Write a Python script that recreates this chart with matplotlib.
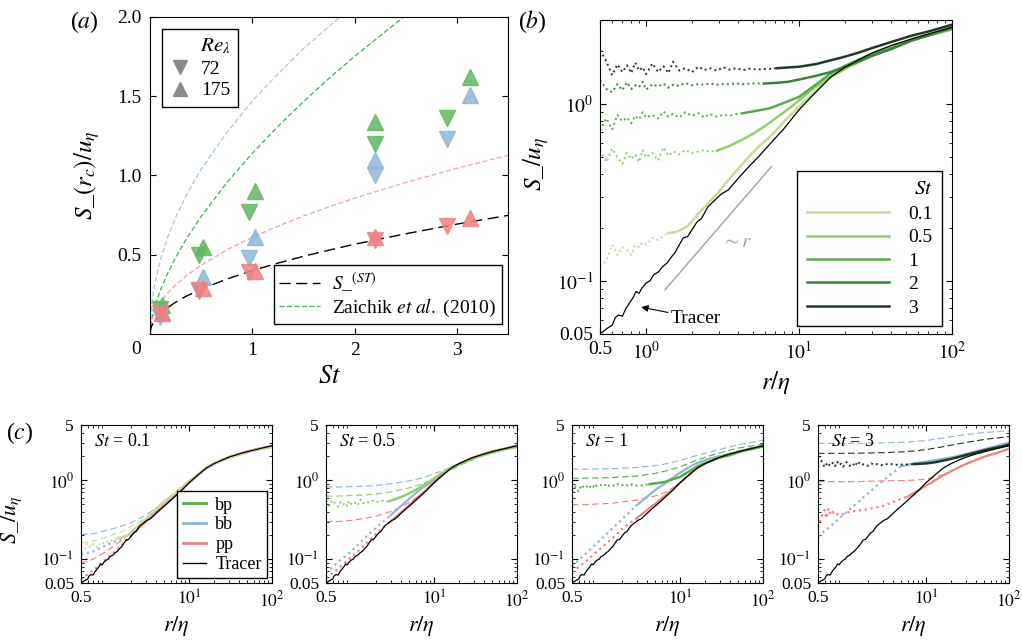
import numpy as np
import matplotlib
matplotlib.use('Agg')
import matplotlib.pyplot as plt
from matplotlib.lines import Line2D
from matplotlib.ticker import NullFormatter, LogLocator

plt.rcParams['font.family'] = 'serif'
plt.rcParams['font.serif'] = ['Liberation Serif', 'DejaVu Serif']
plt.rcParams['mathtext.fontset'] = 'stix'
plt.rcParams['xtick.direction'] = 'in'
plt.rcParams['ytick.direction'] = 'in'
plt.rcParams['xtick.top'] = True
plt.rcParams['ytick.right'] = True
plt.rcParams['xtick.minor.visible'] = False

# ---------------- panel (a) data ----------------
st_72 = [0.10, 0.48, 0.97, 2.2, 2.9]
st_175 = [0.12, 0.52, 1.03, 2.2, 3.13]
bp_72 = [0.16, 0.50, 0.77, 1.20, 1.36]
bp_175 = [0.18, 0.55, 0.90, 1.34, 1.62]
bb_72 = [0.11, 0.27, 0.48, 1.00, 1.23]
bb_175 = [0.14, 0.36, 0.61, 1.10, 1.51]
pp_72 = [0.13, 0.28, 0.39, 0.59, 0.68]
pp_175 = [0.13, 0.29, 0.40, 0.61, 0.73]

z_st = [0, 0.01, 0.025, 0.05, 0.1, 0.175, 0.25, 0.35, 0.5, 0.75, 1.0, 1.25,
        1.5, 1.75, 2.0, 2.5, 3.0, 3.5]
z_bb = [0, 0.147, 0.232, 0.329, 0.465, 0.615, 0.735, 0.87, 1.04, 1.27, 1.47,
        1.64, 1.80, 1.94, 2.08, 2.32, 2.55, 2.75]
z_bp = [0, 0.066, 0.116, 0.178, 0.274, 0.387, 0.482, 0.594, 0.742, 0.954,
        1.14, 1.309, 1.466, 1.613, 1.752, 2.01, 2.25, 2.48]
z_pp = [0, 0.064, 0.10, 0.141, 0.198, 0.26, 0.309, 0.365, 0.434, 0.53, 0.61,
        0.68, 0.744, 0.802, 0.857, 0.956, 1.045, 1.127]
s_st = [0, 0.04, 0.063, 0.089, 0.126, 0.167, 0.20, 0.237, 0.283, 0.346, 0.40,
        0.447, 0.49, 0.529, 0.566, 0.632, 0.693, 0.748]

# ---------------- panel (b) data ----------------
st_list = ['0.1', '0.5', '1', '2', '3']
r_dot = [0.5, 0.55, 0.6, 0.65, 0.7, 0.75, 0.8, 0.85, 0.9, 0.95, 1.0, 1.1, 1.2,
         1.3, 1.4, 1.5, 1.65, 1.8, 2.0, 2.2, 2.4, 2.6, 2.9, 3.2, 3.5, 3.9,
         4.3, 4.8, 5.3, 5.9, 6.5, 7.2]
dot_st01 = [0.12, 0.13, 0.16, 0.14, 0.155, 0.15, 0.14, 0.16, 0.155, 0.165,
            0.16, 0.175, 0.17, 0.18, 0.186]
dot_st05 = [0.55, 0.47, 0.56, 0.50, 0.46, 0.53, 0.49, 0.52, 0.47, 0.55, 0.50,
            0.53, 0.48, 0.57, 0.51, 0.54, 0.52, 0.55, 0.53, 0.54, 0.55, 0.54,
            0.545]
dot_st1 = [0.71, 0.83, 0.72, 0.87, 0.80, 0.84, 0.78, 0.86, 0.82, 0.90, 0.84,
           0.87, 0.83, 0.91, 0.85, 0.88, 0.84, 0.90, 0.86, 0.89, 0.84, 0.88,
           0.85, 0.87, 0.86, 0.88, 0.89]
dot_st2 = [1.37, 1.22, 1.17, 1.30, 1.20, 1.33, 1.22, 1.28, 1.25, 1.34, 1.21,
           1.30, 1.26, 1.31, 1.24, 1.29, 1.27, 1.32, 1.28, 1.30, 1.29, 1.31,
           1.29, 1.30, 1.30, 1.31, 1.30, 1.31, 1.31, 1.31]
dot_st3 = [2.02, 1.75, 1.46, 1.68, 1.52, 1.66, 1.50, 1.72, 1.55, 1.62, 1.48,
           1.70, 1.52, 1.64, 1.50, 1.74, 1.55, 1.60, 1.52, 1.63, 1.56, 1.60,
           1.55, 1.62, 1.57, 1.60, 1.56, 1.59, 1.57, 1.58, 1.59, 1.60]

sol_r_st01 = [1.4, 1.6, 1.86, 2.2, 2.54, 3, 3.45, 4, 4.7, 5.5, 6.8, 8, 10, 13,
              16, 20, 30, 40, 55, 70, 100]
sol_st01 = [0.186, 0.19, 0.203, 0.24, 0.275, 0.32, 0.372, 0.43, 0.504, 0.58,
            0.683, 0.8, 0.97, 1.2, 1.43, 1.62, 1.93, 2.1, 2.33, 2.47, 2.66]
sol_r_st05 = [2.9, 3.5, 4.2, 5, 5.9, 7, 8.6, 10, 12, 15, 21, 30, 38, 55, 70, 100]
sol_st05 = [0.545, 0.58, 0.626, 0.68, 0.745, 0.83, 0.945, 1.05, 1.2, 1.38,
            1.62, 1.88, 2.06, 2.3, 2.45, 2.65]
sol_r_st1 = [4.3, 5, 6.5, 8, 10, 13, 16, 20, 30, 40, 55, 70, 100]
sol_st1 = [0.89, 0.91, 0.95, 1.02, 1.10, 1.30, 1.49, 1.65, 1.93, 2.08, 2.32,
           2.45, 2.68]
sol_r_st2 = [5.9, 7, 8.5, 10, 13, 16, 20, 25, 30, 40, 55, 70, 100]
sol_st2 = [1.31, 1.32, 1.34, 1.38, 1.45, 1.52, 1.63, 1.76, 1.88, 2.05, 2.3,
           2.45, 2.72]
sol_r_st3 = [7.2, 10, 13, 16, 20, 25, 30, 40, 55, 70, 100]
sol_st3 = [1.60, 1.63, 1.69, 1.77, 1.86, 1.97, 2.08, 2.25, 2.45, 2.58, 2.82]

r_tr = [0.5, 0.56, 0.6, 0.63, 0.66, 0.7, 0.74, 0.78, 0.82, 0.86, 0.9, 0.94,
        1.0, 1.06, 1.12, 1.2, 1.28, 1.37, 1.45, 1.55, 1.65, 1.75, 1.87, 2.0,
        2.15, 2.3, 2.54, 2.8, 3.1, 3.45, 4.0, 4.7, 5.5, 6.8, 8, 9.9, 12, 16.2,
        20, 25, 30, 40, 55, 70, 100]
s_tr = [0.050, 0.054, 0.056, 0.062, 0.064, 0.063, 0.070, 0.075, 0.080, 0.087,
        0.085, 0.091, 0.097, 0.100, 0.108, 0.112, 0.120, 0.126, 0.135, 0.145,
        0.160, 0.175, 0.178, 0.195, 0.215, 0.225, 0.263, 0.285, 0.31, 0.327,
        0.38, 0.443, 0.51, 0.626, 0.73, 0.92, 1.1, 1.43, 1.62, 1.8, 1.95,
        2.15, 2.35, 2.5, 2.73]

ref_r = [1.33, 6.6]
ref_s = [0.089, 0.443]

# ---------------- panel (c) data ----------------
c_st = ['0.1', '0.5', '1', '3']
c_r = [0.5, 0.7, 1, 1.5, 2, 3, 5, 7, 10, 15, 20, 30, 50, 70, 100]

mod_bb_01 = [0.205, 0.21, 0.23, 0.26, 0.29, 0.36, 0.52, 0.68, 0.93, 1.36, 1.63, 1.96, 2.3, 2.5, 2.7]
mod_bp_01 = [0.16, 0.17, 0.19, 0.22, 0.26, 0.33, 0.50, 0.67, 0.92, 1.35, 1.62, 1.95, 2.3, 2.5, 2.7]
mod_pp_01 = [0.089, 0.10, 0.125, 0.17, 0.22, 0.31, 0.49, 0.66, 0.92, 1.35, 1.62, 1.95, 2.3, 2.5, 2.72]
mod_bb_05 = [0.82, 0.82, 0.83, 0.84, 0.86, 0.90, 0.98, 1.06, 1.2, 1.42, 1.62, 1.92, 2.3, 2.52, 2.8]
mod_bp_05 = [0.63, 0.63, 0.64, 0.65, 0.67, 0.71, 0.80, 0.89, 1.03, 1.30, 1.52, 1.86, 2.26, 2.5, 2.75]
mod_pp_05 = [0.30, 0.30, 0.31, 0.33, 0.35, 0.40, 0.52, 0.67, 0.94, 1.36, 1.63, 1.96, 2.32, 2.52, 2.74]
mod_bb_1 = [1.38, 1.38, 1.39, 1.40, 1.42, 1.45, 1.53, 1.62, 1.78, 2.02, 2.2, 2.45, 2.8, 3.0, 3.2]
mod_bp_1 = [1.06, 1.06, 1.07, 1.08, 1.10, 1.13, 1.22, 1.32, 1.48, 1.75, 1.95, 2.22, 2.55, 2.7, 2.85]
mod_pp_1 = [0.49, 0.49, 0.50, 0.51, 0.53, 0.56, 0.63, 0.72, 0.92, 1.36, 1.63, 1.96, 2.32, 2.52, 2.74]
mod_bb_3 = [2.93, 2.93, 2.93, 2.94, 2.95, 2.97, 3.02, 3.08, 3.18, 3.38, 3.55, 3.78, 4.0, 4.12, 4.25]
mod_bp_3 = [2.19, 2.19, 2.19, 2.2, 2.21, 2.23, 2.28, 2.34, 2.44, 2.62, 2.78, 3.0, 3.28, 3.42, 3.56]
mod_pp_3 = [0.96, 0.96, 0.96, 0.96, 0.97, 0.98, 0.99, 1.0, 1.03, 1.15, 1.3, 1.58, 1.98, 2.22, 2.52]

dns_bb_01 = [0.115, 0.125, 0.15, 0.18, 0.22, 0.31, 0.48, 0.65, 0.92, 1.34, 1.60, 1.93, 2.28, 2.47, 2.64]
dns_pp_01 = [0.056, 0.072, 0.10, 0.145, 0.2, 0.295, 0.475, 0.655, 0.925, 1.36, 1.63, 1.96, 2.32, 2.52, 2.74]
dns_bb_05 = [0.067, 0.092, 0.125, 0.19, 0.25, 0.36, 0.58, 0.78, 1.0, 1.35, 1.6, 1.92, 2.3, 2.5, 2.72]
dns_pp_05 = [0.058, 0.076, 0.105, 0.155, 0.21, 0.30, 0.48, 0.66, 0.93, 1.36, 1.62, 1.95, 2.32, 2.5, 2.72]
dns_bb_1 = [0.081, 0.113, 0.16, 0.24, 0.32, 0.48, 0.75, 0.95, 1.25, 1.6, 1.8, 2.02, 2.3, 2.5, 2.68]
dns_pp_1 = [0.069, 0.09, 0.125, 0.18, 0.24, 0.33, 0.50, 0.67, 0.92, 1.35, 1.62, 1.95, 2.3, 2.5, 2.72]
dns_bb_3 = [0.194, 0.26, 0.36, 0.52, 0.68, 0.98, 1.5, 1.62, 1.72, 1.84, 1.94, 2.14, 2.47, 2.7, 3.0]
dns_pp_3_r = [0.5, 0.53, 0.56, 0.6, 0.63, 0.67, 0.71, 0.75, 0.8, 0.9, 1.0, 1.2,
              1.5, 2, 2.5, 3, 4, 5, 6, 7, 10, 15, 20, 30, 50, 70, 100]
dns_pp_3 = [0.25, 0.30, 0.36, 0.42, 0.33, 0.44, 0.37, 0.40, 0.36, 0.38, 0.37,
            0.40, 0.41, 0.43, 0.45, 0.47, 0.53, 0.58, 0.62, 0.68, 0.85, 1.1,
            1.3, 1.6, 1.98, 2.2, 2.5]

# colours
c_green = '#62b862'
c_blue = '#8db6d9'
c_red = '#ee8282'
st_colors = ['#c6dc9c', '#8fd06b', '#58ab4a', '#3b833b', '#1f3a27']

fig = plt.figure(figsize=(10.22, 6.42), dpi=100)


def style_log(ax, fs):
    ax.set_xscale('log')
    ax.set_yscale('log')
    ax.xaxis.set_minor_locator(LogLocator(subs=np.arange(2, 10)))
    ax.yaxis.set_minor_locator(LogLocator(subs=np.arange(2, 10)))
    ax.xaxis.set_minor_formatter(NullFormatter())
    ax.yaxis.set_minor_formatter(NullFormatter())
    ax.tick_params(which='both', direction='in', top=True, right=True,
                   labelsize=fs)
    ax.tick_params(which='major', length=4, pad=5)
    ax.tick_params(which='minor', length=2)


def split_plot(ax, r, s, r_cut, color, lw, z=2):
    r = np.asarray(r)
    s = np.asarray(s)
    ax.plot(r[r <= r_cut], s[r <= r_cut], ':', color=color, lw=lw, zorder=z)
    ax.plot(r[r >= r_cut], s[r >= r_cut], '-', color=color, lw=lw, zorder=z)


leg_kw = dict(frameon=True, fancybox=False, edgecolor='k', framealpha=1,
              borderaxespad=0)

# ================= (a) =================
ax1 = fig.add_axes([0.1468, 0.4798, 0.3503, 0.4938])
ax1.plot(z_st, z_bb, color='#a3c6e6', lw=0.9, dashes=(4, 2))
ax1.plot(z_st, z_bp, color='#3fb34a', lw=0.9, dashes=(4, 2))
ax1.plot(z_st, z_pp, color='#f7a0a0', lw=0.9, dashes=(4, 2))
ax1.plot(z_st, s_st, color='k', lw=1.0, dashes=(8, 4))
for xs, ys, col, m in [(st_72, bp_72, c_green, 'v'), (st_175, bp_175, c_green, '^'),
                       (st_72, bb_72, c_blue, 'v'), (st_175, bb_175, c_blue, '^'),
                       (st_72, pp_72, c_red, 'v'), (st_175, pp_175, c_red, '^')]:
    ax1.plot(xs, ys, m, ms=11, color=col, mec=col, alpha=0.85, ls='none')
ax1.set_xlim(0, 3.5)
ax1.set_ylim(0, 2.0)
ax1.set_xticks([0, 1, 2, 3])
ax1.set_xticklabels(['', '1', '2', '3'])
ax1.set_yticks([0.5, 1.0, 1.5, 2.0])
ax1.set_yticklabels(['0.5', '1.0', '1.5', '2.0'])
ax1.tick_params(labelsize=14, length=4, pad=6)
ax1.text(-0.04, -0.05, '0', transform=ax1.transAxes, ha='center',
         va='center', fontsize=14)
ax1.set_xlabel(r'$St$', fontsize=19)
ax1.xaxis.set_label_coords(0.5, -0.1)
ax1.set_ylabel(r'$S$_$(r_c)/u_\eta$', fontsize=18)
ax1.yaxis.set_label_coords(-0.135, 0.5)

h1 = [Line2D([], [], marker='v', color='#8a8a8a', ls='none', ms=10),
      Line2D([], [], marker='^', color='#8a8a8a', ls='none', ms=10)]
leg1 = ax1.legend(h1, ['72', '175'], title=r'$Re_\lambda$', loc='upper left',
                  bbox_to_anchor=(0.034, 0.962), fontsize=14, title_fontsize=15,
                  handlelength=1.0, handletextpad=0.6, labelspacing=0.2,
                  borderpad=0.4, alignment='right', **leg_kw)
leg1.get_frame().set_linewidth(1.0)
ax1.add_artist(leg1)
h2 = [Line2D([], [], color='k', lw=1.0, dashes=(8, 4)),
      Line2D([], [], color='#3fb34a', lw=0.9, dashes=(4, 2))]
leg2 = ax1.legend(h2, [r'$S$_$^{(ST)}$', r'Zaichik $et\ al.$ (2010)'],
                  loc='lower right', bbox_to_anchor=(0.983, 0.03), fontsize=14,
                  handlelength=2.1, labelspacing=0.12, borderpad=0.3,
                  handletextpad=0.6, **leg_kw)
leg2.get_frame().set_linewidth(1.0)

# ================= (b) =================
ax2 = fig.add_axes([0.5871, 0.4798, 0.3444, 0.4891])
style_log(ax2, 14)
dots = [dot_st01, dot_st05, dot_st1, dot_st2, dot_st3]
sols = [(sol_r_st01, sol_st01), (sol_r_st05, sol_st05), (sol_r_st1, sol_st1),
        (sol_r_st2, sol_st2), (sol_r_st3, sol_st3)]
for lab, col, d, (sr, sv) in zip(st_list, st_colors, dots, sols):
    ax2.plot(r_dot[:len(d)], d, ':', color=col, lw=1.4)
    ax2.plot(sr, sv, '-', color=col, lw=1.8, label=lab)
ax2.plot(r_tr, s_tr, '-', color='k', lw=0.9, zorder=3)
ax2.plot(ref_r, ref_s, '-', color='#a0a0a0', lw=1.0)
ax2.text(3.9, 0.165, r'$\sim r$', color='#a8a8a8', fontsize=15,
         ha='center', va='center')
ax2.annotate('Tracer', xy=(0.93, 0.071), xytext=(1.45, 0.0615), fontsize=14,
             ha='left', va='center',
             arrowprops=dict(arrowstyle='-|>', color='k', lw=0.8,
                             mutation_scale=10, shrinkA=0, shrinkB=0))
ax2.set_xlim(0.5, 100)
ax2.set_ylim(0.05, 3.0)
ax2.set_xticks([0.5, 1, 10, 100])
ax2.set_xticklabels(['0.5', r'$10^{0}$', r'$10^{1}$', r'$10^{2}$'])
ax2.set_yticks([0.05, 0.1, 1])
ax2.set_yticklabels(['0.05', r'$10^{-1}$', r'$10^{0}$'])
ax2.set_xlabel(r'$r/\eta$', fontsize=18)
ax2.set_ylabel(r'$S$_$/u_\eta$', fontsize=18)
ax2.yaxis.set_label_coords(-0.14, 0.54)
leg3 = ax2.legend(title=r'$St$', loc='lower right', bbox_to_anchor=(0.972, 0.024),
                  fontsize=14, title_fontsize=15, handlelength=4.2,
                  handletextpad=1.0, labelspacing=0.3, borderpad=0.5,
                  alignment='right', **leg_kw)
leg3.get_frame().set_linewidth(1.0)

# ================= (c) =================
c_left = [81, 326, 572, 818]
mods = [(mod_bb_01, mod_bp_01, mod_pp_01), (mod_bb_05, mod_bp_05, mod_pp_05),
        (mod_bb_1, mod_bp_1, mod_pp_1), (mod_bb_3, mod_bp_3, mod_pp_3)]
dns_bb = [dns_bb_01, dns_bb_05, dns_bb_1, dns_bb_3]
dns_pp = [(c_r, dns_pp_01), (c_r, dns_pp_05), (c_r, dns_pp_1),
          (dns_pp_3_r, dns_pp_3)]
cut_bb = [2, 3, 3, 5]
cut_pp = [2, 3, 3, 6]
bp_idx = [0, 1, 2, 4]
for i, st in enumerate(c_st):
    ax = fig.add_axes([c_left[i] / 1022, 59 / 642, 191 / 1022, 158 / 642])
    style_log(ax, 12.5)
    k = bp_idx[i]
    gcol = st_colors[k]
    mbb, mbp, mpp = mods[i]
    ax.plot(c_r, mbb, color=c_blue, lw=0.8, dashes=(6, 3))
    ax.plot(c_r, mbp, color=gcol, lw=0.8, dashes=(6, 3))
    ax.plot(c_r, mpp, color=c_red, lw=0.8, dashes=(6, 3))
    split_plot(ax, c_r, dns_bb[i], cut_bb[i], c_blue, 1.6)
    split_plot(ax, dns_pp[i][0], dns_pp[i][1], cut_pp[i], c_red, 1.6)
    ax.plot(r_dot[:len(dots[k])], dots[k], ':', color=gcol, lw=1.4)
    ax.plot(sols[k][0], sols[k][1], '-', color=gcol, lw=1.8)
    ax.plot(r_tr, s_tr, '-', color='k', lw=0.9, zorder=4)
    ax.set_xlim(0.5, 100)
    ax.set_ylim(0.05, 5)
    ax.set_xticks([0.5, 10, 100])
    ax.set_xticklabels(['0.5', r'$10^{1}$', r'$10^{2}$'])
    ax.set_yticks([0.05, 0.1, 1, 5])
    ax.set_yticklabels(['0.05', r'$10^{-1}$', r'$10^{0}$', '5'])
    ax.set_xlabel(r'$r/\eta$', fontsize=16, labelpad=3)
    ax.text(0.07, 0.895, r'$St$ = ' + st, transform=ax.transAxes,
            fontsize=13, ha='left', va='center')
    if i == 0:
        ax.set_ylabel(r'$S$_$/u_\eta$', fontsize=16)
        ax.yaxis.set_label_coords(-0.3, 0.4)
        hc = [Line2D([], [], color='#5aac44', lw=2),
              Line2D([], [], color=c_blue, lw=2),
              Line2D([], [], color=c_red, lw=2),
              Line2D([], [], color='k', lw=1)]
        lg = ax.legend(hc, ['bp', 'bb', 'pp', 'Tracer'], loc='lower right',
                       bbox_to_anchor=(0.975, 0.03), fontsize=13,
                       handlelength=1.3, handletextpad=0.5,
                       labelspacing=0.15, borderpad=0.3, **leg_kw)
        lg.get_frame().set_linewidth(1.0)

fig.text(84 / 1022, 1 - 22 / 642, r'($a$)', fontsize=17, ha='center', va='center')
fig.text(532 / 1022, 1 - 22 / 642, r'($b$)', fontsize=17, ha='center', va='center')
fig.text(20 / 1022, 1 - 433 / 642, r'($c$)', fontsize=17, ha='center', va='center')

fig.savefig('out.png', dpi=100)
